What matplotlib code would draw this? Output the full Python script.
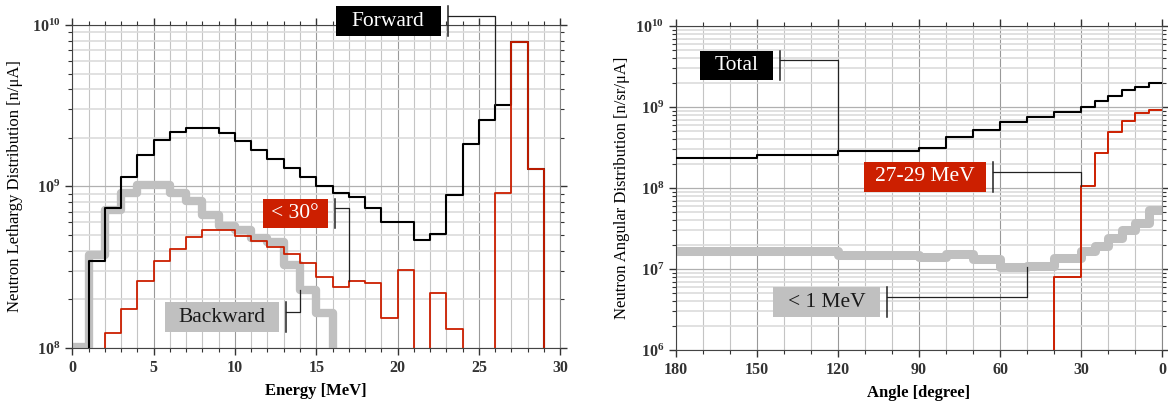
import matplotlib.pyplot as plt
import numpy as np
from matplotlib.patches import Rectangle
from matplotlib.ticker import MultipleLocator, FixedLocator, LogLocator, FuncFormatter, NullFormatter

plt.rcParams['font.family'] = ['Liberation Serif', 'DejaVu Serif']
plt.rcParams['mathtext.fontset'] = 'custom'
plt.rcParams['mathtext.rm'] = 'Liberation Serif'
plt.rcParams['mathtext.bf'] = 'Liberation Serif:bold'

# energy spectra, 1 MeV bins from 0 to 30 MeV
e_edges = np.arange(0, 31)
forward = [0, 3.47e8, 7.4e8, 1.14e9, 1.57e9, 1.94e9, 2.18e9, 2.31e9, 2.31e9, 2.13e9,
           1.91e9, 1.68e9, 1.47e9, 1.31e9, 1.14e9, 1.01e9, 9.16e8, 8.65e8, 7.33e8, 6.06e8,
           6.06e8, 4.67e8, 5.06e8, 8.82e8, 1.83e9, 2.58e9, 3.2e9, 7.82e9, 1.28e9, 0]
below30 = [0, 0, 1.23e8, 1.75e8, 2.6e8, 3.44e8, 4.1e8, 4.85e8, 5.38e8, 5.38e8,
           4.96e8, 4.61e8, 4.24e8, 3.82e8, 3.34e8, 2.77e8, 2.4e8, 2.61e8, 2.51e8, 1.54e8,
           3.04e8, 0, 2.18e8, 1.32e8, 0, 0, 9.16e8, 7.82e9, 1.28e9, 0]
backward = [1.02e8, 3.77e8, 7.15e8, 9.16e8, 1.02e9, 1.02e9, 9.08e8, 8.17e8, 6.66e8, 5.69e8,
            5.38e8, 4.78e8, 4.55e8, 3.27e8, 2.29e8, 1.64e8, 0, 0, 0, 0,
            0, 0, 0, 0, 0, 0, 0, 0, 0, 0]

# angular distributions, bins in degree (180 -> 0)
a_edges = [180, 150, 120, 90, 80, 70, 60, 50, 40, 30, 25, 20, 15, 10, 5, 0]
total = [2.37e8, 2.53e8, 2.86e8, 3.15e8, 4.23e8, 5.2e8, 6.47e8, 7.6e8, 8.75e8,
         1.01e9, 1.19e9, 1.38e9, 1.62e9, 1.78e9, 1.96e9]
mev27_29 = [0, 0, 0, 0, 0, 0, 0, 0, 7.9e6,
            1.07e8, 2.73e8, 4.88e8, 6.71e8, 8.35e8, 9.18e8]
below1 = [1.68e7, 1.68e7, 1.48e7, 1.42e7, 1.53e7, 1.32e7, 1.07e7, 1.1e7, 1.36e7,
          1.68e7, 1.92e7, 2.39e7, 3.03e7, 3.73e7, 5.35e7]

RED = '#cc1f00'
GRAY = '#c0c0c0'


def steps(edges, vals):
    edges = np.asarray(edges, float)
    vals = np.asarray(vals, float)
    return np.repeat(edges, 2)[1:-1], np.repeat(vals, 2)


def tag(ax, text, x0, x1, y0, y1, bar_x, line_y, elbow_x, target_y, fc, tc):
    ax.add_patch(Rectangle((x0, y0), x1 - x0, y1 - y0, facecolor=fc, edgecolor='none',
                           clip_on=False, zorder=6))
    ax.text((x0 + x1) / 2, np.sqrt(y0 * y1), text, color=tc, fontsize=15.5,
            ha='center', va='center', clip_on=False, zorder=7)
    ax.plot([bar_x, bar_x], [y0, y1], color='#222222', lw=1.1, clip_on=False, zorder=6)
    ax.plot([bar_x, elbow_x, elbow_x], [line_y, line_y, target_y], color='#222222',
            lw=0.9, clip_on=False, zorder=6)


def style(ax):
    ax.set_yscale('log', nonpositive='clip')
    ax.yaxis.set_major_locator(LogLocator(base=10))
    ax.yaxis.set_minor_locator(LogLocator(base=10, subs=np.arange(2, 10)))
    ax.yaxis.set_minor_formatter(NullFormatter())
    ax.yaxis.set_major_formatter(FuncFormatter(lambda v, p: r'$\mathbf{10^{%d}}$' % round(np.log10(v))))
    ax.grid(which='minor', axis='y', color='#dcdcdc', lw=1.2)
    ax.grid(which='major', axis='y', color='#b0b0b0', lw=0.9)
    ax.grid(which='minor', axis='x', color='#c4c4c4', lw=0.8)
    ax.grid(which='major', axis='x', color='#999999', lw=0.8)
    ax.set_axisbelow(True)
    ax.tick_params(which='both', direction='out', top=True, right=True, colors='#333333',
                   labelsize=11.5)
    ax.tick_params(which='major', length=5, width=1)
    ax.tick_params(which='minor', length=3, width=0.8)
    for lab in ax.get_xticklabels():
        lab.set_fontweight('bold')
    for sp in ax.spines.values():
        sp.set_color('#444444')
    ax.spines['right'].set_color('#888888')


fig = plt.figure(figsize=(11.68, 4.01), dpi=100)

# left panel: energy
ax = fig.add_axes([0.0619, 0.1322, 0.4178, 0.8055])
x, y = steps(e_edges, backward)
ax.plot(x, y, color=GRAY, lw=6, zorder=2)
x, y = steps(e_edges, forward)
ax.plot(x, y, color='black', lw=1.5, zorder=3)
x, y = steps(e_edges, below30)
ax.plot(x, y, color=RED, lw=1.3, zorder=4)
ax.set_xlim(0, 30)
ax.set_ylim(1e8, 1e10)
ax.xaxis.set_major_locator(MultipleLocator(5))
ax.xaxis.set_minor_locator(MultipleLocator(1))
style(ax)
ax.set_xlabel('Energy [MeV]', fontsize=12, fontweight='bold', labelpad=5)
ax.set_ylabel('Neutron Lethargy Distribution [n/\u03bcA]', fontsize=12, labelpad=6)
tag(ax, 'Forward', 16.19, 22.65, 8.55e9, 1.31e10, 23.11, 1.14e10, 26, 3.2e9, 'black', 'white')
tag(ax, '< 30\u00b0', 11.70, 15.70, 5.51e8, 8.33e8, 16.13, 7.33e8, 17, 2.61e8, RED, 'white')
tag(ax, 'Backward', 5.72, 12.69, 1.26e8, 1.92e8, 13.12, 1.66e8, 14, 2.29e8, GRAY, '#1a1a1a')

# right panel: angle
ax2 = fig.add_axes([0.5788, 0.1272, 0.4161, 0.808])
x, y = steps(a_edges, below1)
ax2.plot(x, y, color=GRAY, lw=6.5, zorder=2)
x, y = steps(a_edges, total)
ax2.plot(x, y, color='black', lw=1.5, zorder=3)
x, y = steps(a_edges, mev27_29)
ax2.plot(x, y, color=RED, lw=1.4, zorder=4)
ax2.set_xlim(180, 0)
ax2.set_ylim(1e6, 1e10)
ax2.xaxis.set_major_locator(FixedLocator([180, 150, 120, 90, 60, 30, 0]))
ax2.xaxis.set_minor_locator(MultipleLocator(10))
style(ax2)
ax2.set_xlabel('Angle [degree]', fontsize=12, fontweight='bold', labelpad=5)
ax2.set_ylabel('Neutron Angular Distribution [n/sr/\u03bcA]', fontsize=12, labelpad=4)
tag(ax2, 'Total', 171.1, 144.1, 2.16e9, 4.96e9, 141.5, 3.8e9, 120, 2.86e8, 'black', 'white')
tag(ax2, '27-29 MeV', 110.4, 65.2, 8.93e7, 2.1e8, 62.6, 1.58e8, 30, 1.07e8, RED, 'white')
tag(ax2, '< 1 MeV', 144.1, 104.4, 2.55e6, 6.0e6, 102.0, 4.51e6, 50, 1.07e7, GRAY, '#1a1a1a')

fig.savefig('out.png', dpi=100)
